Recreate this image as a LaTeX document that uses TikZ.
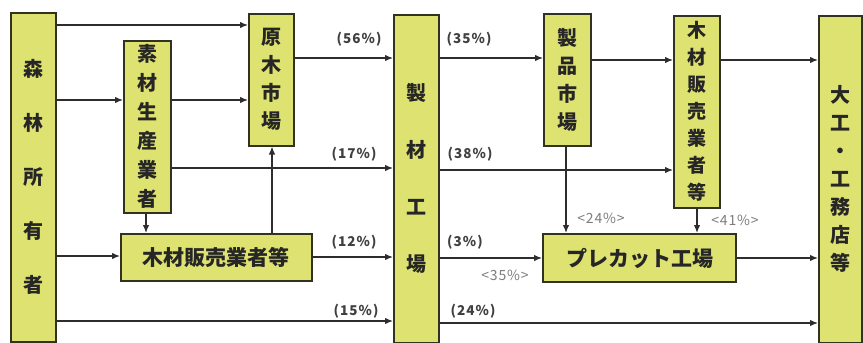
\documentclass[tikz,border=0pt]{standalone}
\usepackage{fontspec}
\newfontfamily\cjk{Noto Sans CJK JP}
\newfontfamily\cjklab{Noto Sans CJK JP}[LetterSpace=8]
\newfontfamily\cjkg{Noto Sans CJK JP}[LetterSpace=6]
\usetikzlibrary{arrows.meta}
\definecolor{boxfill}{RGB}{222,226,112}
\definecolor{boxline}{RGB}{50,50,35}
\definecolor{arr}{RGB}{45,45,45}
\definecolor{glab}{RGB}{125,125,125}
\begin{document}
\begin{tikzpicture}[x=1pt,y=-1pt,
  box/.style={draw=boxline, line width=1.5pt, fill=boxfill, inner sep=0pt, align=center, anchor=north west, text=black!85},
  flow/.style={draw=arr, line width=1.3pt, -{Latex[length=8pt,width=6.5pt]}},
  lab/.style={font=\cjklab\bfseries\fontsize{13.5}{14}\selectfont, text=black!75, inner sep=0pt},
  glabel/.style={font=\cjkg\fontsize{14}{14}\selectfont, text=glab, inner sep=0pt}]
\useasboundingbox (0,0) rectangle (863,343);
\fill[white] (0,0) rectangle (863,343);
% boxes
\node[box, minimum width=45, minimum height=329, font=\cjk\bfseries\fontsize{20}{54}\selectfont] (FO) at (10,12) {森\\林\\所\\有\\者};
\node[box, minimum width=47, minimum height=172, font=\cjk\bfseries\fontsize{20}{29}\selectfont] (SZ) at (123,40) {素\\材\\生\\産\\業\\者};
\node[box, minimum width=45, minimum height=132, font=\cjk\bfseries\fontsize{20}{28}\selectfont] (GM) at (248,13) {原\\木\\市\\場};
\node[box, minimum width=191, minimum height=47, font=\cjk\bfseries\fontsize{21}{24}\selectfont] (MH) at (120,233) {木材販売業者等};
\node[box, minimum width=45, minimum height=328, font=\cjk\bfseries\fontsize{20}{57}\selectfont] (SS) at (393,14) {製\\材\\工\\場};
\node[box, minimum width=47, minimum height=132, font=\cjk\bfseries\fontsize{20}{28}\selectfont] (SH) at (543,13) {製\\品\\市\\場};
\node[box, minimum width=46, minimum height=192, font=\cjk\bfseries\fontsize{19}{27}\selectfont] (MV) at (673,15) {木\\材\\販\\売\\業\\者\\等};
\node[box, line width=2.2pt, minimum width=193, minimum height=48, font=\cjk\bfseries\fontsize{21}{24}\selectfont] (PC) at (542,233) {プレカット工場};
\node[box, minimum width=43, minimum height=327, font=\cjk\bfseries\fontsize{20}{28}\selectfont] (DK) at (818,15) {大\\工\\・\\工\\務\\店\\等};
% connectors
\draw[flow] (FO.east |- 0,25) -- (GM.west |- 0,25);
\draw[flow] (FO.east |- 0,100) -- (SZ.west |- 0,100);
\draw[flow] (SZ.east |- 0,100) -- (GM.west |- 0,100);
\draw[flow] (SZ.east |- 0,168) -- (SS.west |- 0,168);
\draw[flow] (SZ.south -| 146,0) -- (MH.north -| 146,0);
\draw[flow] (FO.east |- 0,256) -- (MH.west |- 0,256);
\draw[flow] (MH.north -| 272,0) -- (GM.south -| 272,0);
\draw[flow] (GM.east |- 0,58) -- (SS.west |- 0,58);
\draw[flow] (MH.east |- 0,257) -- (SS.west |- 0,257);
\draw[flow] (FO.east |- 0,321) -- (SS.west |- 0,321);
\draw[flow] (SS.east |- 0,58) -- (SH.west |- 0,58);
\draw[flow] (SS.east |- 0,170) -- (MV.west |- 0,170);
\draw[flow] (SS.east |- 0,258) -- (PC.west |- 0,258);
\draw[flow] (SS.east |- 0,323) -- (DK.west |- 0,323);
\draw[flow] (SH.east |- 0,60) -- (MV.west |- 0,60);
\draw[flow] (SH.south -| 566,0) -- (PC.north -| 566,0);
\draw[flow] (MV.east |- 0,60) -- (DK.west |- 0,60);
\draw[flow] (MV.south -| 697,0) -- (PC.north -| 697,0);
\draw[flow] (PC.east |- 0,258) -- (DK.west |- 0,258);
% labels
\node[lab] (l56) at (359,39) {(56\%)};
\node[lab] (l17) at (354,154) {(17\%)};
\node[lab] (l12) at (354,242) {(12\%)};
\node[lab] (l15) at (356,311) {(15\%)};
\node[lab] (l35) at (469,39) {(35\%)};
\node[lab] (l38) at (470,154) {(38\%)};
\node[lab] (l3) at (465,242) {(3\%)};
\node[lab] (l24) at (473,311) {(24\%)};
\node[glabel] (g35) at (505,275) {<35\%>};
\node[glabel] (g24) at (601,218) {<24\%>};
\node[glabel] (g41) at (735,220) {<41\%>};
\end{tikzpicture}
\end{document}
